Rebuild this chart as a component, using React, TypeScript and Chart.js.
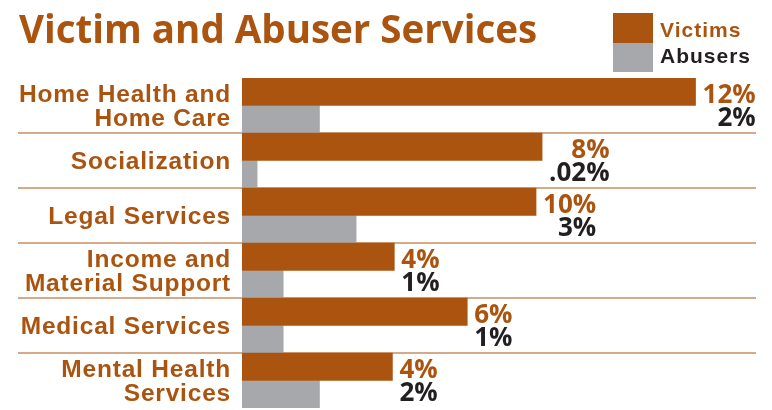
import React, { useEffect, useRef } from "react";
import { Chart, registerables } from "chart.js";

Chart.register(...registerables);

const title = "Victim and Abuser Services";
const categories: string[][] = [
  ["Home Health and", "Home Care"],
  ["Socialization"],
  ["Legal Services"],
  ["Income and", "Material Support"],
  ["Medical Services"],
  ["Mental Health", "Services"],
];
const seriesNames = ["Victims", "Abusers"];
// bar lengths as drawn in the picture (percent)
const victims = [12, 7.94, 7.78, 4.03, 5.96, 3.98];
const abusers = [2.05, 0.4, 3.02, 1.09, 1.09, 2.05];
// value labels as printed in the picture
const victimLabels = ["12%", "8%", "10%", "4%", "6%", "4%"];
const abuserLabels = ["2%", ".02%", "3%", "1%", "1%", "2%"];

const BROWN = "#AA5410";
const GRAY = "#A7A8AB";
const DARK = "#231F20";
const LINE = "#C98D62";

const overlay = {
  id: "overlay",
  beforeDatasetsDraw(chart: any) {
    const { ctx, chartArea, scales } = chart;
    const y = scales.y;
    ctx.save();
    ctx.strokeStyle = LINE;
    ctx.lineWidth = 1.5;
    for (let i = 1; i < categories.length; i++) {
      const yy = (y.getPixelForValue(i - 1) + y.getPixelForValue(i)) / 2;
      ctx.beginPath();
      ctx.moveTo(18, yy);
      ctx.lineTo(chartArea.right, yy);
      ctx.stroke();
    }
    ctx.restore();
  },
  afterDatasetsDraw(chart: any) {
    const { ctx, scales } = chart;
    const x = scales.x;
    const y = scales.y;
    ctx.save();
    // title
    ctx.fillStyle = BROWN;
    ctx.font = "bold 38.5px 'Open Sans'";
    ctx.textAlign = "left";
    ctx.textBaseline = "alphabetic";
    ctx.fillText(title, 19, 43);

    // legend
    ctx.fillStyle = BROWN;
    ctx.fillRect(613, 13, 40, 30);
    ctx.fillStyle = GRAY;
    ctx.fillRect(613, 43, 40, 29);
    ctx.font = "bold 21px 'Liberation Sans'";
    (ctx as any).letterSpacing = "1px";
    ctx.fillStyle = BROWN;
    ctx.fillText(seriesNames[0], 660, 37);
    ctx.fillStyle = DARK;
    ctx.fillText(seriesNames[1], 660, 63);

    // category labels
    ctx.font = "bold 24.5px 'Liberation Sans'";
    (ctx as any).letterSpacing = "0.8px";
    ctx.fillStyle = BROWN;
    ctx.textAlign = "right";
    categories.forEach((lines, i) => {
      const c = y.getPixelForValue(i);
      const n = lines.length;
      lines.forEach((t, j) => {
        const by = c + 8.5 + (j - (n - 1) / 2) * 23.5;
        ctx.fillText(t, 231, by);
      });
    });
    (ctx as any).letterSpacing = "0px";

    // value labels
    ctx.font = "bold 26px 'Open Sans'";
    victims.forEach((v, i) => {
      const c = y.getPixelForValue(i);
      const end = x.getPixelForValue(v);
      const w1 = ctx.measureText(victimLabels[i]).width;
      const w2 = ctx.measureText(abuserLabels[i]).width;
      const right = end + 7 + Math.max(w1, w2);
      ctx.textAlign = "right";
      ctx.fillStyle = BROWN;
      ctx.fillText(victimLabels[i], right, c - 2.5);
      ctx.fillStyle = DARK;
      ctx.fillText(abuserLabels[i], right, c + 20.5);
    });
    ctx.restore();
  },
};

export default function App() {
  const ref = useRef<HTMLCanvasElement>(null);
  useEffect(() => {
    if (!ref.current) return;
    const chart = new Chart(ref.current, {
      type: "bar",
      data: {
        labels: categories.map((c) => c.join(" ")),
        datasets: [
          {
            label: seriesNames[0],
            data: victims,
            backgroundColor: BROWN,
            borderWidth: 0,
            categoryPercentage: 1,
            barPercentage: 1,
          },
          {
            label: seriesNames[1],
            data: abusers,
            backgroundColor: GRAY,
            borderWidth: 0,
            categoryPercentage: 1,
            barPercentage: 1,
          },
        ],
      },
      options: {
        indexAxis: "y",
        animation: false,
        responsive: false,
        devicePixelRatio: 1,
        layout: { padding: { left: 242, top: 78, right: 16, bottom: 2 } },
        scales: {
          x: { display: false, min: 0, max: 13.6 },
          y: { display: false },
        },
        plugins: {
          legend: { display: false },
          tooltip: { enabled: false },
          title: { display: false },
        },
      },
      plugins: [overlay],
    });
    return () => chart.destroy();
  }, []);
  return (
    <div style={{ position: "fixed", left: 0, top: 0, width: 772, height: 410, background: "#fff" }}>
      <canvas ref={ref} width={772} height={410} />
    </div>
  );
}
